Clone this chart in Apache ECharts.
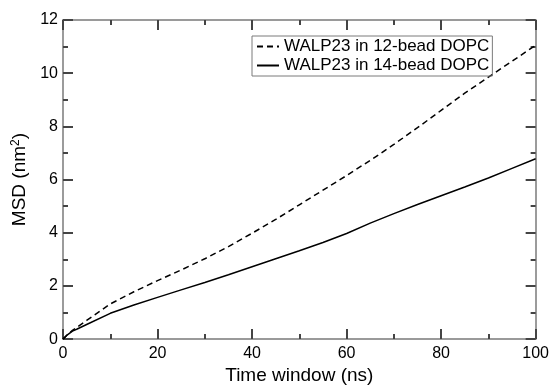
<!DOCTYPE html>
<html>
<head>
<meta charset="utf-8">
<script src="https://cdn.jsdelivr.net/npm/echarts@6/dist/echarts.min.js"></script>
<style>
  html, body { margin: 0; padding: 0; background: #fff; }
  #main { width: 552px; height: 390px; }
</style>
</head>
<body>
<div id="main"></div>
<script>
// time window (ns)
var timeWin = [0, 1, 2, 3, 5, 10, 15, 20, 25, 30, 35, 40, 45, 50, 55, 60, 65, 70, 75, 80, 85, 90, 95, 100];
// MSD (nm^2)
var msd12 = [0, 0.18, 0.33, 0.45, 0.7, 1.32, 1.78, 2.2, 2.6, 3.02, 3.48, 3.98, 4.5, 5.05, 5.6, 6.15, 6.72, 7.32, 7.95, 8.6, 9.25, 9.85, 10.45, 11.05];
var msd14 = [0, 0.17, 0.3, 0.38, 0.55, 0.97, 1.28, 1.57, 1.85, 2.13, 2.42, 2.72, 3.02, 3.32, 3.63, 3.97, 4.36, 4.72, 5.06, 5.39, 5.72, 6.06, 6.42, 6.78];
var seriesNames = ['WALP23 in 12-bead DOPC', 'WALP23 in 14-bead DOPC'];

function pairs(ys) {
  return timeWin.map(function (t, i) { return [t, ys[i]]; });
}

var chart = echarts.init(document.getElementById('main'));
var axisGray = '#7a7a7a';
var tickGray = '#444444';
var font = "'Liberation Sans', Arial, sans-serif";

// 坐标轴公共样式（四周都画框，刻度朝内）
function boxAxis(pos, extra) {
  var a = {
    type: 'value',
    position: pos,
    axisLine: { show: true, onZero: false, lineStyle: { color: axisGray, width: 1.5 } },
    axisTick: { show: true, inside: true, length: 10, lineStyle: { color: tickGray, width: 2, opacity: 1 } },
    minorTick: { show: true, splitNumber: 2, length: 5, lineStyle: { color: tickGray, width: 2, opacity: 1 } },
    splitLine: { show: false },
    axisLabel: { show: false }
  };
  for (var k in extra) a[k] = extra[k];
  return a;
}

var option = {
  animation: false,
  grid: { left: 63, right: 15, top: 20, bottom: 40 },
  legend: {
    data: seriesNames,
    orient: 'vertical',
    left: 252,
    top: 36,
    itemWidth: 22,
    itemHeight: 14,
    itemGap: 2,
    padding: [2, 3, 2, 4],
    borderColor: axisGray,
    borderWidth: 1,
    itemStyle: { opacity: 0 },
    textStyle: { color: '#000', fontSize: 17, fontFamily: font, lineHeight: 16 }
  },
  xAxis: [
    boxAxis('bottom', {
      min: 0, max: 100, interval: 20,
      name: 'Time window (ns)', nameLocation: 'middle', nameGap: 25,
      nameTextStyle: { color: '#000', fontSize: 19, fontFamily: font },
      axisLabel: { show: true, color: '#000', fontSize: 16, fontFamily: font, margin: 6 }
    }),
    boxAxis('top', { min: 0, max: 100, interval: 20 })
  ],
  yAxis: [
    boxAxis('left', {
      min: 0, max: 12, interval: 2,
      name: 'MSD (nm{sup|2})', nameLocation: 'middle', nameGap: 27, nameRotate: 90,
      nameTextStyle: {
        color: '#000', fontSize: 19, fontFamily: font,
        rich: { sup: { fontSize: 12, verticalAlign: 'top', padding: [0, 0, 8, 0], fontFamily: font, color: '#000' } }
      },
      axisLabel: { show: true, color: '#000', fontSize: 16, fontFamily: font, margin: 5 }
    }),
    boxAxis('right', { min: 0, max: 12, interval: 2 })
  ],
  series: [
    {
      name: seriesNames[0],
      type: 'line',
      data: pairs(msd12),
      showSymbol: false,
      symbol: 'none',
      lineStyle: { color: '#000', width: 1.5, type: [6, 4] },
      itemStyle: { color: '#000' }
    },
    {
      name: seriesNames[1],
      type: 'line',
      data: pairs(msd14),
      showSymbol: false,
      symbol: 'none',
      lineStyle: { color: '#000', width: 1.5 },
      itemStyle: { color: '#000' }
    }
  ]
};

chart.setOption(option);
</script>
</body>
</html>
